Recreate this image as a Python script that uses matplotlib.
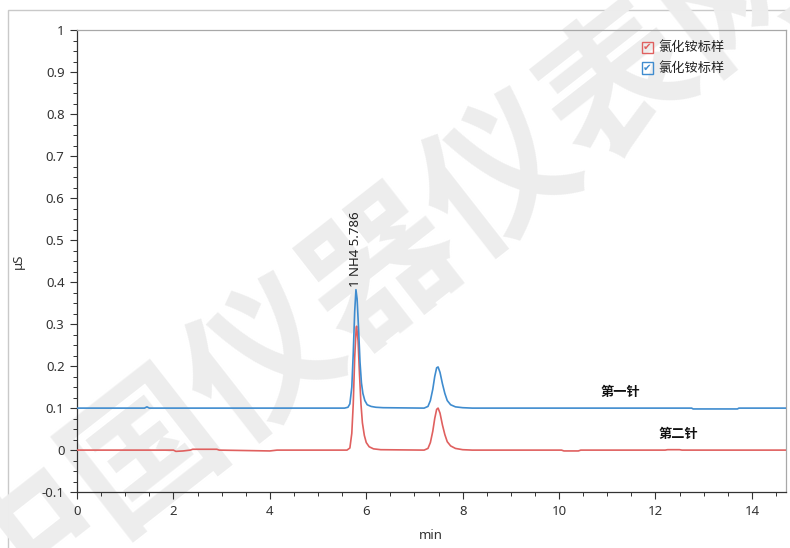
import numpy as np
import matplotlib
matplotlib.use('Agg')
import matplotlib.pyplot as plt
from matplotlib.patches import Rectangle
from matplotlib.ticker import MultipleLocator

plt.rcParams['font.family'] = ['Noto Sans', 'Noto Sans CJK SC', 'DejaVu Sans']

# 第一针 (blue, baseline offset 0.1)
t_run1 = [0.0, 1.40, 1.45, 1.50, 5.55, 5.62, 5.66, 5.70, 5.73, 5.76, 5.786, 5.81,
          5.84, 5.87, 5.90, 5.93, 5.97, 6.02, 6.10, 6.20, 6.35, 7.20, 7.28, 7.33,
          7.38, 7.42, 7.46, 7.49, 7.53, 7.58, 7.63, 7.68, 7.75, 7.85, 8.00, 8.20,
          12.75, 12.78, 13.70, 13.73, 14.70]
y_run1 = [0.100, 0.100, 0.103, 0.100, 0.100, 0.102, 0.110, 0.150, 0.230, 0.330, 0.382, 0.360,
          0.290, 0.210, 0.160, 0.135, 0.118, 0.108, 0.104, 0.102, 0.101, 0.100, 0.104, 0.118,
          0.145, 0.175, 0.196, 0.198, 0.185, 0.158, 0.135, 0.118, 0.108, 0.103, 0.101, 0.100,
          0.100, 0.098, 0.098, 0.100, 0.100]

# 第二针 (red, baseline 0)
t_run2 = [0.0, 2.00, 2.05, 2.20, 2.35, 2.40, 2.90, 2.95, 4.00, 4.15, 5.60, 5.66,
          5.70, 5.73, 5.76, 5.79, 5.80, 5.83, 5.86, 5.89, 5.92, 5.96, 6.00, 6.06,
          6.15, 6.30, 7.20, 7.28, 7.33, 7.38, 7.42, 7.46, 7.49, 7.53, 7.58, 7.63,
          7.68, 7.75, 7.85, 8.00, 8.20, 10.05, 10.10, 10.40, 10.45, 12.20, 12.25,
          12.50, 12.55, 14.70]
y_run2 = [0.0, 0.0, -0.003, -0.002, 0.0, 0.002, 0.002, 0.0, -0.002, 0.0, 0.0, 0.005,
          0.040, 0.110, 0.220, 0.290, 0.295, 0.260, 0.180, 0.110, 0.065, 0.035, 0.018, 0.008,
          0.003, 0.001, 0.0, 0.004, 0.018, 0.045, 0.075, 0.097, 0.100, 0.088, 0.060, 0.037,
          0.020, 0.010, 0.004, 0.001, 0.0, 0.0, -0.002, -0.002, 0.0, 0.0, 0.001,
          0.001, 0.0, 0.0]

legend_labels = ['氯化铵标样', '氯化铵标样']
peak_rt = 5.786
peak_label = '1 NH4 5.786'
peak_top = 0.388

blue = '#3f8ccf'
red = '#e0605f'

fig = plt.figure(figsize=(7.9, 5.48), dpi=100)
ax = fig.add_axes([0.0975, 0.102, 0.897, 0.843])
ax.set_facecolor('none')

# outer frame
fig.patches.append(Rectangle((8 / 790, -0.1), 1.2, 1.1 - 10 / 548, transform=fig.transFigure,
                             fill=False, edgecolor='#c9c9c9', lw=1.0, zorder=-2))

# watermark
fig.text(0.485, 0.515, '中国仪器仪表网', rotation=38, ha='center', va='center',
         fontsize=108, fontweight='bold', color='#ededed', family=['Noto Sans CJK SC'],
         zorder=-1)

ax.plot(t_run2, y_run2, color=red, lw=1.2, zorder=3)
ax.plot(t_run1, y_run1, color=blue, lw=1.2, zorder=4)

ax.text(peak_rt, peak_top, peak_label, rotation=90, ha='center', va='bottom',
        fontsize=9.5, color='#222222')

ax.text(11.28, 0.138, '第一针', ha='center', va='center', fontsize=9.5,
        fontweight='bold', family=['Noto Sans CJK SC'], color='#111111')
ax.text(12.48, 0.038, '第二针', ha='center', va='center', fontsize=9.5,
        fontweight='bold', family=['Noto Sans CJK SC'], color='#111111')

# checkbox legend
for i, (lab, col) in enumerate(zip(legend_labels, [red, blue])):
    yc = 0.963 - i * 0.045
    ax.add_patch(Rectangle((0.797, yc - 0.012), 0.0155, 0.024, transform=ax.transAxes,
                           fill=False, edgecolor=col, lw=1.0, zorder=5))
    ax.text(0.8047, yc, '✔', transform=ax.transAxes, ha='center', va='center',
            fontsize=7.5, color=col, family=['DejaVu Sans'], zorder=6)
    ax.text(0.82, yc, lab, transform=ax.transAxes, ha='left', va='center',
            fontsize=9.5, color='#222222', family=['Noto Sans CJK SC'])

ax.set_xlim(0, 14.7)
ax.set_ylim(-0.1, 1.0)
ax.xaxis.set_major_locator(MultipleLocator(2))
ax.xaxis.set_minor_locator(MultipleLocator(0.5))
ax.yaxis.set_minor_locator(MultipleLocator(0.025))
ax.set_yticks(np.arange(-0.1, 1.01, 0.1))
ax.set_yticklabels(['-0.1', '0', '0.1', '0.2', '0.3', '0.4', '0.5', '0.6', '0.7', '0.8', '0.9', '1'])

ax.tick_params(which='major', length=5, width=0.8, color='#333333', labelsize=9.5,
               labelcolor='#333333', pad=4)
ax.tick_params(which='minor', length=3, width=0.7, color='#333333')
for s in ['left', 'bottom']:
    ax.spines[s].set_color('#333333')
    ax.spines[s].set_linewidth(0.9)
for s in ['top', 'right']:
    ax.spines[s].set_color('#a8a8a8')
    ax.spines[s].set_linewidth(0.9)

ax.set_xlabel('min', fontsize=9.5, color='#333333', labelpad=8)
ax.set_ylabel('μS', fontsize=9.5, color='#333333', labelpad=12)

fig.savefig('out.png', dpi=100)
